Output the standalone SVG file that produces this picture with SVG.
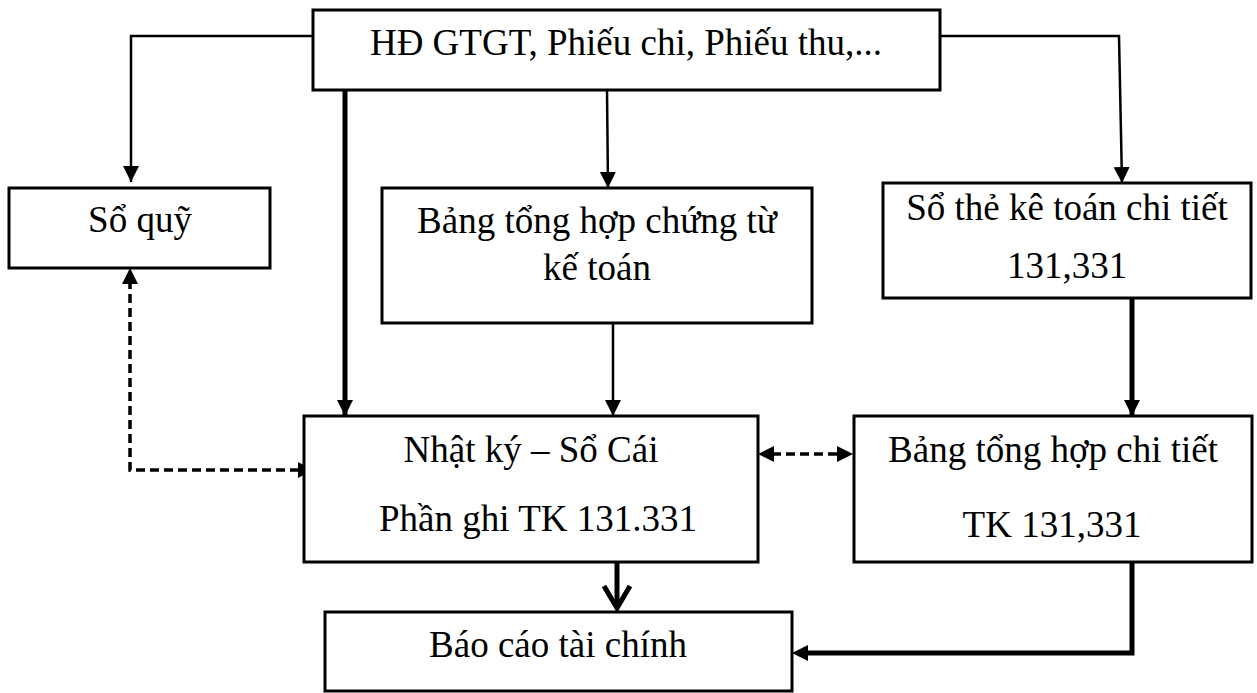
<svg xmlns="http://www.w3.org/2000/svg" width="1257" height="693" viewBox="0 0 1257 693">
<style>
.box{fill:#fff;stroke:#000;stroke-width:3}
.t{font-family:"Liberation Serif","Times New Roman",serif;font-size:37px;fill:#000;text-anchor:middle}
.thin{fill:none;stroke:#000;stroke-width:2.5}
.thick{fill:none;stroke:#000;stroke-width:5}
.dash{fill:none;stroke:#000;stroke-width:3.5;stroke-dasharray:9,5}
</style>
<defs>
<marker id="ah" markerUnits="userSpaceOnUse" markerWidth="20" markerHeight="20" refX="16" refY="8" orient="auto">
<path d="M0,0 L16,8 L0,16 Z" fill="#000"/>
</marker>
<marker id="ahs" markerUnits="userSpaceOnUse" markerWidth="20" markerHeight="20" refX="14" refY="7" orient="auto-start-reverse">
<path d="M0,0 L14,7 L0,14 Z" fill="#000"/>
</marker>
</defs>
<rect width="1257" height="693" fill="#fff"/>
<g id="connectors">
<polyline class="thin" points="313,36 131,36 131,182" marker-end="url(#ah)"/>
<polyline class="thin" points="940,36 1119,36 1122,183" marker-end="url(#ah)"/>
<line class="thin" x1="607" y1="90" x2="608" y2="188" marker-end="url(#ah)"/>
<line class="thick" x1="345" y1="90" x2="345" y2="416" marker-end="url(#ah)"/>
<line class="thin" x1="613" y1="323" x2="613" y2="416" marker-end="url(#ah)"/>
<line class="thick" x1="1132" y1="298" x2="1132" y2="416" marker-end="url(#ah)"/>
<polyline class="dash" points="130,280 130,470 300,470"/>
<path d="M122,284 L130,268 L138,284 Z" fill="#000"/>
<path d="M298,462 L313,470 L298,478 Z" fill="#000"/>
<line class="dash" x1="772" y1="454" x2="840" y2="454"/>
<path d="M774,446 L758,454 L774,462 Z" fill="#000"/>
<path d="M837,446 L853,454 L837,462 Z" fill="#000"/>
<line class="thick" x1="617" y1="562" x2="617" y2="608"/>
<polyline points="604,586 617,608 630,586" fill="none" stroke="#000" stroke-width="5"/>
<polyline class="thick" points="1132,562 1132,653 805,653"/>
<path d="M808,645 L792,653 L808,661 Z" fill="#000"/>
</g>
<g id="n-top">
<rect class="box" x="313" y="10" width="627" height="80"/>
<text class="t" x="626" y="55">HĐ GTGT, Phiếu chi, Phiếu thu,...</text>
</g>
<g id="n-soquy">
<rect class="box" x="9" y="188" width="261" height="80"/>
<text class="t" x="140" y="232">Sổ quỹ</text>
</g>
<g id="n-bangchungtu">
<rect class="box" x="382" y="188" width="430" height="135"/>
<text class="t" x="597" y="233">Bảng tổng hợp chứng từ</text>
<text class="t" x="597" y="280">kế toán</text>
</g>
<g id="n-sothe">
<rect class="box" x="883" y="183" width="368" height="115"/>
<text class="t" x="1067" y="220">Sổ thẻ kê toán chi tiết</text>
<text class="t" x="1067" y="278">131,331</text>
</g>
<g id="n-nhatky">
<rect class="box" x="304" y="416" width="454" height="146"/>
<text class="t" x="531" y="462">Nhật ký – Sổ Cái</text>
<text class="t" x="538" y="531">Phần ghi TK 131.331</text>
</g>
<g id="n-bangchitiet">
<rect class="box" x="854" y="416" width="398" height="146"/>
<text class="t" x="1053" y="462">Bảng tổng hợp chi tiết</text>
<text class="t" x="1052" y="537">TK 131,331</text>
</g>
<g id="n-baocao">
<rect class="box" x="325" y="612" width="467" height="79"/>
<text class="t" x="558" y="657">Báo cáo tài chính</text>
</g>
</svg>
